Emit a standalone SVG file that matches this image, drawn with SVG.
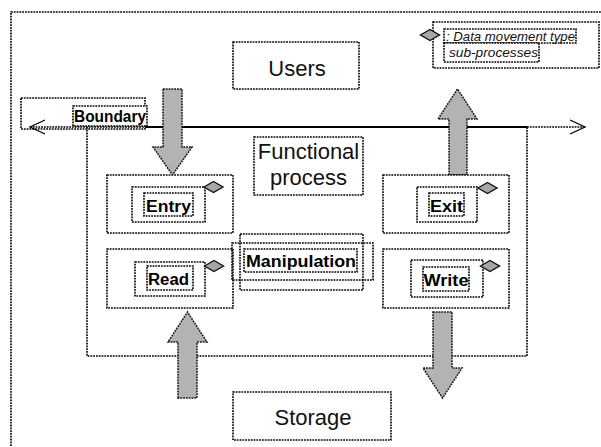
<svg xmlns="http://www.w3.org/2000/svg" width="601" height="447" viewBox="0 0 601 447">
  <style>
    .dot { fill: none; stroke: #000; stroke-width: 1.6; stroke-dasharray: 1.8 1; }
    .box { fill: #fff; stroke: #000; stroke-width: 1.6; stroke-dasharray: 1.8 1; }
    .arrow { fill: #b3b3b3; stroke: #111; stroke-width: 1.5; stroke-dasharray: 1.8 1; }
    .diamond { fill: #a6a6a6; stroke: #111; stroke-width: 1.4; }
    .big { font-family: "Liberation Sans", Arial, sans-serif; font-size: 22px; fill: #111; }
    .lbl { font-family: "Liberation Sans", Arial, sans-serif; font-size: 16px; font-weight: bold; fill: #000; }
    .leg { font-family: "Liberation Sans", Arial, sans-serif; font-size: 13px; font-style: italic; fill: #111; }
  </style>
  <defs>
    <path id="dia" d="M-9.5,0 L0,-5.5 L9.5,0 L0,5.5 Z"/>
  </defs>

  <rect width="601" height="447" fill="#fff"/>

  <!-- outer frame -->
  <rect class="dot" x="11" y="12" width="600" height="450"/>

  <!-- functional process container -->
  <g id="functional-process">
    <path class="dot" d="M87,127 V356 H527 V127"/>
    <rect class="box" x="254" y="137" width="109" height="58"/>
    <text class="big" x="308.5" y="159" text-anchor="middle">Functional</text>
    <text class="big" x="308.5" y="185" text-anchor="middle">process</text>
  </g>

  <g id="users">
    <rect class="box" x="233" y="42" width="126" height="47"/>
    <text class="big" x="297" y="76" text-anchor="middle">Users</text>
  </g>

  <g id="storage">
    <rect class="box" x="233" y="392" width="158" height="48"/>
    <text class="big" x="313" y="425" text-anchor="middle">Storage</text>
  </g>

  <g id="legend">
    <rect class="box" x="433" y="22" width="166" height="46"/>
    <use href="#dia" class="diamond" x="430" y="35"/>
    <rect class="box" x="444" y="29" width="132" height="14"/>
    <rect class="box" x="444" y="43" width="95" height="19"/>
    <text class="leg" x="446" y="41" textLength="129" lengthAdjust="spacingAndGlyphs">: Data movement type</text>
    <text class="leg" x="449" y="57" textLength="89" lengthAdjust="spacingAndGlyphs">sub-processes</text>
  </g>

  <!-- connectors: boundary line and data movement arrows -->
  <g id="connectors">
    <path class="dot" d="M30,127 H145 M527,127 H585"/>
    <path d="M145,127 H527" stroke="#000" stroke-width="1.8" fill="none"/>
    <path d="M45,120 L30,127 L45,134" stroke="#000" stroke-width="1.3" fill="none"/>
    <path d="M570,120 L585,127 L570,134" stroke="#000" stroke-width="1.3" fill="none"/>
    <path class="arrow" d="M163,89 H182 V147 H192 L172.5,175 L153,147 H163 Z"/>
    <path class="arrow" d="M449,175 V119 H438 L457.5,89 L477,119 H467 V175 Z"/>
    <path class="arrow" d="M178,398 V342 H168 L187.5,312 L207,342 H197 V398 Z"/>
    <path class="arrow" d="M433,312 H452 V368 H462 L442.5,398 L423,368 H433 Z"/>
  </g>

  <g id="boundary">
    <rect class="dot" x="21" y="98" width="124" height="31"/>
    <rect class="box" x="73" y="106" width="74" height="20"/>
    <text class="lbl" x="74" y="122" textLength="72" lengthAdjust="spacingAndGlyphs">Boundary</text>
  </g>

  <g id="entry">
    <rect class="box" x="107" y="175" width="126" height="58"/>
    <rect class="box" x="132" y="187" width="73" height="35"/>
    <rect class="box" x="144" y="193" width="49" height="23"/>
    <text class="lbl" x="146" y="212" textLength="45" lengthAdjust="spacingAndGlyphs">Entry</text>
    <use href="#dia" class="diamond" x="213.5" y="187"/>
  </g>

  <g id="exit">
    <rect class="box" x="383" y="175" width="126" height="58"/>
    <rect class="box" x="417" y="187" width="60" height="35"/>
    <rect class="box" x="429" y="193" width="35" height="23"/>
    <text class="lbl" x="430" y="212" textLength="33" lengthAdjust="spacingAndGlyphs">Exit</text>
    <use href="#dia" class="diamond" x="487.5" y="188"/>
  </g>

  <g id="read">
    <rect class="box" x="107" y="249" width="126" height="59"/>
    <rect class="box" x="135" y="262" width="70" height="34"/>
    <rect class="box" x="147" y="266" width="46" height="24"/>
    <text class="lbl" x="148" y="285" textLength="41" lengthAdjust="spacingAndGlyphs">Read</text>
    <use href="#dia" class="diamond" x="214" y="266"/>
  </g>

  <g id="write">
    <rect class="box" x="383" y="249" width="126" height="59"/>
    <rect class="box" x="411" y="260" width="72" height="37"/>
    <rect class="box" x="423" y="267" width="46" height="24"/>
    <text class="lbl" x="423.5" y="286" textLength="45" lengthAdjust="spacingAndGlyphs">Write</text>
    <use href="#dia" class="diamond" x="490" y="266"/>
  </g>

  <g id="manipulation">
    <rect class="dot" x="240" y="234" width="123" height="56"/>
    <rect class="dot" x="232" y="243" width="141" height="37"/>
    <rect class="box" x="244" y="249" width="113" height="23"/>
    <text class="lbl" x="246" y="267" textLength="110" lengthAdjust="spacingAndGlyphs">Manipulation</text>
  </g>
</svg>
